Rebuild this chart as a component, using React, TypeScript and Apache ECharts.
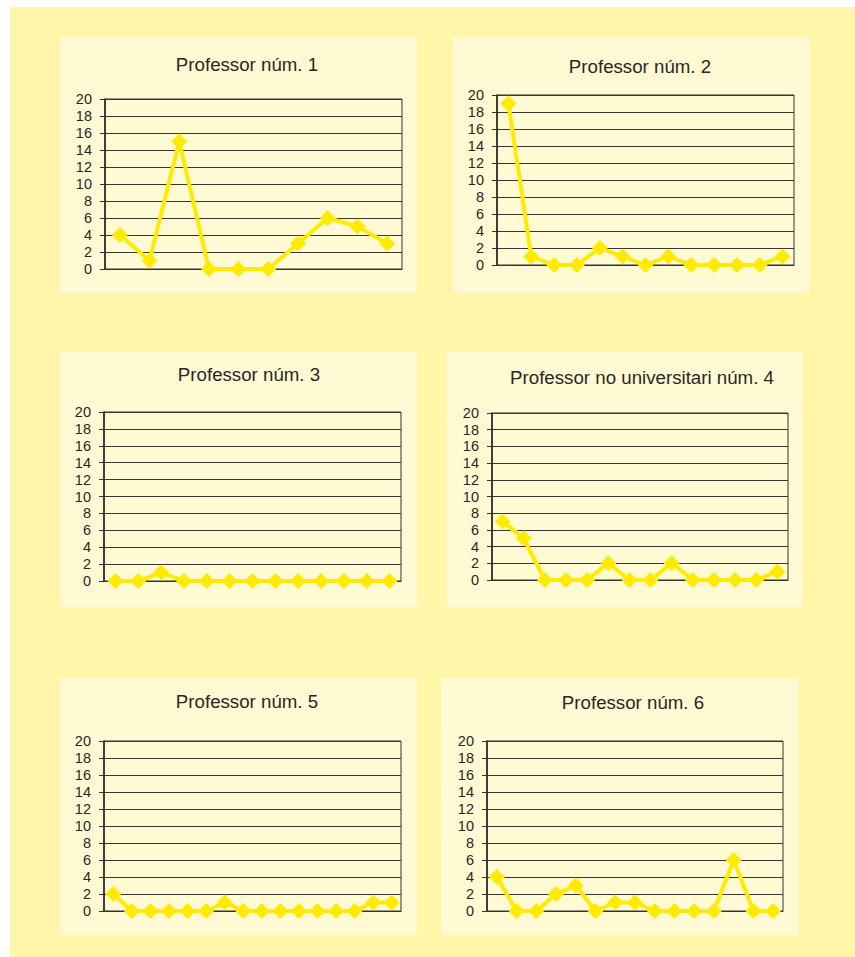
import React, { useEffect, useRef } from "react";
import * as echarts from "echarts";

const titles = [
  "Professor núm. 1",
  "Professor núm. 2",
  "Professor núm. 3",
  "Professor no universitari núm. 4",
  "Professor núm. 5",
  "Professor núm. 6",
];

const cats1 = ["1", "2", "3", "4", "5", "6", "7", "8", "9", "10"];
const vals1 = [4, 1, 15, 0, 0, 0, 3, 6, 5, 3];

const cats2 = ["1", "2", "3", "4", "5", "6", "7", "8", "9", "10", "11", "12", "13"];
const vals2 = [19, 1, 0, 0, 2, 1, 0, 1, 0, 0, 0, 0, 1];

const cats3 = ["1", "2", "3", "4", "5", "6", "7", "8", "9", "10", "11", "12", "13"];
const vals3 = [0, 0, 1, 0, 0, 0, 0, 0, 0, 0, 0, 0, 0];

const cats4 = ["1", "2", "3", "4", "5", "6", "7", "8", "9", "10", "11", "12", "13", "14"];
const vals4 = [7, 5, 0, 0, 0, 2, 0, 0, 2, 0, 0, 0, 0, 1];

const cats5 = ["1", "2", "3", "4", "5", "6", "7", "8", "9", "10", "11", "12", "13", "14", "15", "16"];
const vals5 = [2, 0, 0, 0, 0, 0, 1, 0, 0, 0, 0, 0, 0, 0, 1, 1];

const cats6 = ["1", "2", "3", "4", "5", "6", "7", "8", "9", "10", "11", "12", "13", "14", "15"];
const vals6 = [4, 0, 0, 2, 3, 0, 1, 1, 0, 0, 0, 0, 6, 0, 0];

const yTicks = [0, 2, 4, 6, 8, 10, 12, 14, 16, 18, 20];

const allCats = [cats1, cats2, cats3, cats4, cats5, cats6];
const allVals = [vals1, vals2, vals3, vals4, vals5, vals6];

// layout (pixels)
const panels = [
  { x: 60, y: 37, w: 357, h: 256 },
  { x: 453, y: 37, w: 357, h: 256 },
  { x: 60, y: 352, w: 357, h: 255 },
  { x: 447, y: 352, w: 356, h: 255 },
  { x: 60, y: 678, w: 357, h: 257 },
  { x: 441, y: 678, w: 357, h: 257 },
];
const grids = [
  { left: 105, top: 99, width: 297, height: 170 },
  { left: 497, top: 95, width: 297, height: 170 },
  { left: 104, top: 412, width: 297, height: 169 },
  { left: 492, top: 413, width: 296, height: 167 },
  { left: 104, top: 741, width: 297, height: 170 },
  { left: 487, top: 741, width: 296, height: 170 },
];
const titlePos = [
  { x: 247, y: 64 },
  { x: 640, y: 66 },
  { x: 249, y: 374 },
  { x: 642, y: 377 },
  { x: 247, y: 701 },
  { x: 633, y: 702 },
];

const FONT = "'Liberation Sans', Arial, Helvetica, sans-serif";
const LINE = "#FFEA00";
const DARK = "#2b2626";

export default function App() {
  const ref = useRef<HTMLDivElement>(null);
  useEffect(() => {
    if (!ref.current) return;
    const chart = echarts.init(ref.current, undefined, { renderer: "svg" });
    const graphic: any[] = [
      {
        type: "rect",
        shape: { x: 10, y: 7, width: 845, height: 950 },
        style: { fill: "#FFF6AA" },
        z: -10,
      },
    ];
    panels.forEach((p) => {
      graphic.push({
        type: "rect",
        shape: { x: p.x, y: p.y, width: p.w, height: p.h },
        style: { fill: "#FFFAD3" },
        z: -9,
      });
    });
    titles.forEach((t, i) => {
      graphic.push({
        type: "text",
        x: titlePos[i].x,
        y: titlePos[i].y,
        style: {
          text: t,
          font: `18.7px ${FONT}`,
          fill: DARK,
          textAlign: "center",
          textVerticalAlign: "middle",
        },
        z: 10,
      });
    });

    const option: any = {
      animation: false,
      graphic,
      grid: grids.map((g) => ({
        ...g,
        show: true,
        borderColor: "#333",
        borderWidth: 1,
        backgroundColor: "transparent",
        containLabel: false,
      })),
      xAxis: allCats.map((c, i) => ({
        type: "category",
        gridIndex: i,
        data: c,
        boundaryGap: true,
        axisLine: { show: true, lineStyle: { color: "#333", width: 1 } },
        axisTick: { show: false },
        axisLabel: { show: false },
        splitLine: { show: false },
      })),
      yAxis: allCats.map((_, i) => ({
        type: "value",
        gridIndex: i,
        min: yTicks[0],
        max: yTicks[yTicks.length - 1],
        interval: 2,
        axisLine: { show: true, lineStyle: { color: "#222", width: 1.5 } },
        axisTick: { show: true, length: 5, inside: false, lineStyle: { color: "#333" } },
        axisLabel: { color: DARK, fontSize: 14.5, fontFamily: FONT, margin: 13 },
        splitLine: { show: true, lineStyle: { color: "#3a3632", width: 1 } },
      })),
      series: allVals.map((v, i) => ({
        type: "line",
        xAxisIndex: i,
        yAxisIndex: i,
        data: v,
        symbol: "diamond",
        symbolSize: 16,
        showSymbol: true,
        showAllSymbol: true,
        lineStyle: { color: LINE, width: 4 },
        itemStyle: { color: LINE },
        z: 5,
      })),
    };
    chart.setOption(option);
    return () => chart.dispose();
  }, []);
  return (
    <div
      ref={ref}
      style={{ position: "absolute", left: 0, top: 0, width: 855, height: 957 }}
    />
  );
}
